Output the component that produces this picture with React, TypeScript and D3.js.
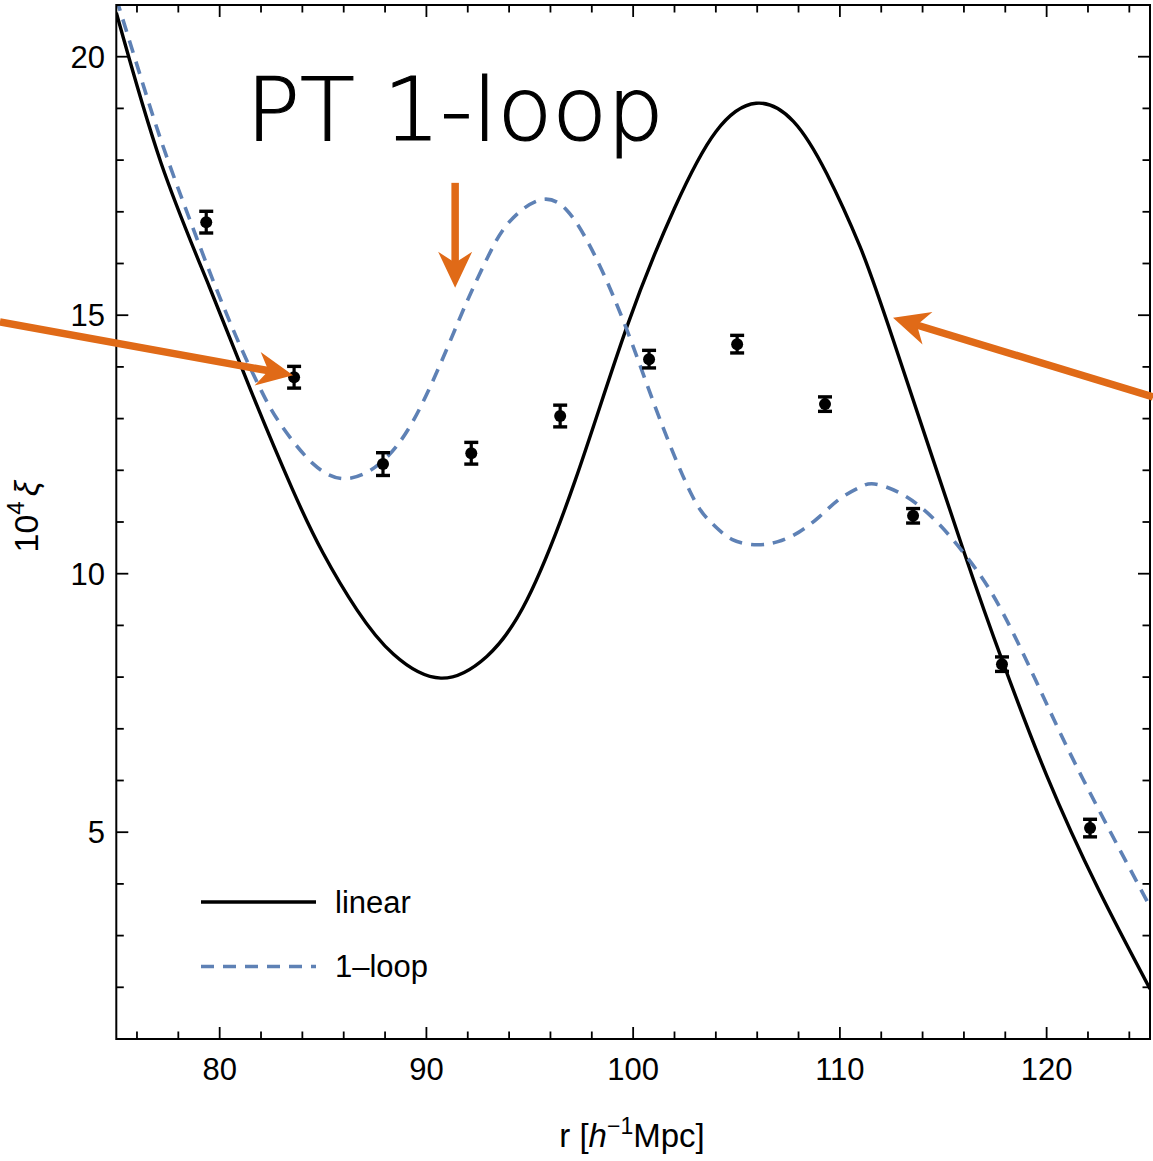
import React from 'react';
import * as d3 from 'd3';

// ---- data ----
const linearR = [75, 77.16, 79.5, 81.5, 83.5, 85.0, 86.64, 88.41, 90.7, 92.92, 94.86, 97.2, 99.7, 102.0, 104.0, 105.95, 107.75, 109.36, 110.97, 112.58, 115.97, 117.9, 120.0, 122.5, 125];
const linearXi = [20.85, 17.95, 15.55, 13.55, 11.65, 10.4, 9.3, 8.44, 7.98, 8.4, 9.49, 11.81, 14.78, 17.07, 18.55, 19.1, 18.75, 17.74, 16.33, 14.52, 10.46, 8.27, 6.1, 3.9, 1.97];

const loopR = [75, 76.5, 77.45, 78.6, 79.8, 81.0, 82.0, 82.93, 84.54, 86.15, 87.77, 89.38, 90.99, 92.0, 93.0, 94.0, 95.5, 96.79, 97.92, 99.05, 100.18, 101.3, 102.8, 103.8, 104.8, 106.0, 107.0, 108.0, 109.0, 110.0, 111.0, 111.9, 113.88, 116.13, 117.9, 119.84, 121.78, 125];
const loopXi = [21.13, 19.2, 18.05, 16.8, 15.55, 14.4, 13.55, 12.9, 12.12, 11.84, 12.14, 12.97, 14.35, 15.3, 16.15, 16.8, 17.23, 17.03, 16.33, 15.36, 14.2, 12.98, 11.55, 10.98, 10.66, 10.56, 10.62, 10.8, 11.1, 11.45, 11.68, 11.72, 11.3, 10.33, 9.23, 7.62, 6.01, 3.56];

const dataR = [79.35, 83.6, 87.9, 92.17, 96.47, 100.77, 105.03, 109.28, 113.54, 117.84, 122.1];
const dataXi = [16.8, 13.8, 12.12, 12.33, 13.05, 14.15, 14.44, 13.28, 11.12, 8.25, 5.08];
const dataErr = [0.21, 0.21, 0.22, 0.21, 0.21, 0.17, 0.17, 0.14, 0.14, 0.14, 0.17];

const xMajorTicks = [80, 90, 100, 110, 120];
const yMajorTicks = [5, 10, 15, 20];
const xDomain = [75, 125];
const yDomain = [1, 21];

const seriesNames = ['linear', '1\u2013loop'];
const titleText = 'PT 1-loop';

// annotation arrows in data coordinates
const arrowTailR = [69.37, 91.39, 125.15];
const arrowTailXi = [14.87, 17.56, 13.42];
const arrowTipR = [83.55, 91.39, 112.57];
const arrowTipXi = [13.84, 15.53, 14.95];

const BLUE = '#5E81B5';
const ORANGE = '#E06A17';
const FONT = '"Liberation Sans", Arial, Helvetica, sans-serif';

export default function App() {
  const W = 1153, H = 1161;
  const left = 116.3, right = 1150, top = 5, bottom = 1039;
  const x = d3.scaleLinear().domain(xDomain).range([left, right]);
  const y = d3.scaleLinear().domain(yDomain).range([bottom, top]);

  const line = d3.line<[number, number]>()
    .x(d => x(d[0]))
    .y(d => y(d[1]))
    .curve(d3.curveNatural);

  const linPts = linearR.map((r, i) => [r, linearXi[i]] as [number, number]);
  const loopPts = loopR.map((r, i) => [r, loopXi[i]] as [number, number]);

  const xMinor = d3.range(76, 125, 2).filter(v => !xMajorTicks.includes(v));
  const yMinor = d3.range(2, 21, 1).filter(v => !yMajorTicks.includes(v));

  const majLen = 12, minLen = 7.5;

  const arrows = arrowTailR.map((_, i) => {
    const sx = x(arrowTailR[i]), sy = y(arrowTailXi[i]);
    const tx = x(arrowTipR[i]), ty = y(arrowTipXi[i]);
    const dx = tx - sx, dy = ty - sy;
    const len = Math.hypot(dx, dy);
    const ux = dx / len, uy = dy / len;
    const nx = -uy, ny = ux;
    const L = 36, Wd = 17, notch = 11;
    const bx = tx - ux * L, by = ty - uy * L;
    const mx = tx - ux * (L - notch), my = ty - uy * (L - notch);
    const head = `M${tx},${ty} L${bx + nx * Wd},${by + ny * Wd} L${mx},${my} L${bx - nx * Wd},${by - ny * Wd} Z`;
    return { sx, sy, ex: mx + ux * 2, ey: my + uy * 2, head };
  });

  return (
    <svg width={W} height={H} style={{ position: 'absolute', left: 0, top: 0, background: '#fff' }}
      xmlns="http://www.w3.org/2000/svg">
      <defs>
        <clipPath id="plotClip">
          <rect x={left} y={top} width={right - left} height={bottom - top} />
        </clipPath>
      </defs>
      <rect x={0} y={0} width={W} height={H} fill="#fff" />

      {/* curves */}
      <g clipPath="url(#plotClip)">
        <path d={line(linPts) || ''} fill="none" stroke="#000" strokeWidth={3.4} />
        <path d={line(loopPts) || ''} fill="none" stroke={BLUE} strokeWidth={3.6} strokeDasharray="13,9" />
      </g>

      {/* data points with error bars */}
      <g>
        {dataR.map((r, i) => {
          const cx = x(r), cy = y(dataXi[i]);
          const y1 = y(dataXi[i] + dataErr[i]), y2 = y(dataXi[i] - dataErr[i]);
          return (
            <g key={i}>
              <line x1={cx} x2={cx} y1={y1} y2={y2} stroke="#000" strokeWidth={3.2} />
              <line x1={cx - 7} x2={cx + 7} y1={y1} y2={y1} stroke="#000" strokeWidth={3.4} />
              <line x1={cx - 7} x2={cx + 7} y1={y2} y2={y2} stroke="#000" strokeWidth={3.4} />
              <circle cx={cx} cy={cy} r={6} fill="#000" />
            </g>
          );
        })}
      </g>

      {/* frame */}
      <rect x={left} y={top} width={right - left} height={bottom - top} fill="none" stroke="#000" strokeWidth={2} />

      {/* ticks */}
      <g stroke="#000" strokeWidth={1.8}>
        {xMajorTicks.map(v => (
          <g key={'xm' + v}>
            <line x1={x(v)} x2={x(v)} y1={bottom} y2={bottom - majLen} />
            <line x1={x(v)} x2={x(v)} y1={top} y2={top + majLen} />
          </g>
        ))}
        {xMinor.map(v => (
          <g key={'xn' + v}>
            <line x1={x(v)} x2={x(v)} y1={bottom} y2={bottom - minLen} />
            <line x1={x(v)} x2={x(v)} y1={top} y2={top + minLen} />
          </g>
        ))}
        {yMajorTicks.map(v => (
          <g key={'ym' + v}>
            <line x1={left} x2={left + majLen} y1={y(v)} y2={y(v)} />
            <line x1={right} x2={right - majLen} y1={y(v)} y2={y(v)} />
          </g>
        ))}
        {yMinor.map(v => (
          <g key={'yn' + v}>
            <line x1={left} x2={left + minLen} y1={y(v)} y2={y(v)} />
            <line x1={right} x2={right - minLen} y1={y(v)} y2={y(v)} />
          </g>
        ))}
      </g>

      {/* tick labels */}
      <g fontFamily={FONT} fontSize={31} fill="#000">
        {xMajorTicks.map(v => (
          <text key={'xl' + v} x={x(v)} y={1080} textAnchor="middle">{v}</text>
        ))}
        {yMajorTicks.map(v => (
          <text key={'yl' + v} x={105} y={y(v) + 11} textAnchor="end">{v}</text>
        ))}
      </g>

      {/* axis titles */}
      <text x={632} y={1147} textAnchor="middle" fontFamily={FONT} fontSize={33} fill="#000">
        r [<tspan fontStyle="italic">h</tspan><tspan fontSize={23} dy={-13}>{'\u22121'}</tspan><tspan dy={13}>Mpc]</tspan>
      </text>
      <text transform={`translate(38,${y(11.1)}) rotate(-90)`} textAnchor="middle" fontFamily={FONT} fontSize={34} fill="#000">
        10<tspan fontSize={24} dy={-14}>4</tspan><tspan dy={14} dx={5} fontStyle="italic">{'\u03BE'}</tspan>
      </text>

      {/* legend */}
      <g fontFamily={FONT} fontSize={31} fill="#000">
        <line x1={201} x2={316} y1={902} y2={902} stroke="#000" strokeWidth={3.4} />
        <text x={335} y={913}>{seriesNames[0]}</text>
        <line x1={201} x2={316} y1={966.5} y2={966.5} stroke={BLUE} strokeWidth={3.6} strokeDasharray="13,9" />
        <text x={335} y={977}>{seriesNames[1]}</text>
      </g>

      {/* title */}
      <text x={246} y={140} fontFamily='"DejaVu Sans", sans-serif' fontWeight={200} fontSize={88} fill="#000"
        stroke="#000" strokeWidth={1.2}
        textLength={418} lengthAdjust="spacingAndGlyphs">{titleText}</text>

      {/* arrows */}
      <g>
        {arrows.map((a, i) => (
          <g key={'ar' + i}>
            <line x1={a.sx} y1={a.sy} x2={a.ex} y2={a.ey} stroke={ORANGE} strokeWidth={7.5} />
            <path d={a.head} fill={ORANGE} />
          </g>
        ))}
      </g>
    </svg>
  );
}
